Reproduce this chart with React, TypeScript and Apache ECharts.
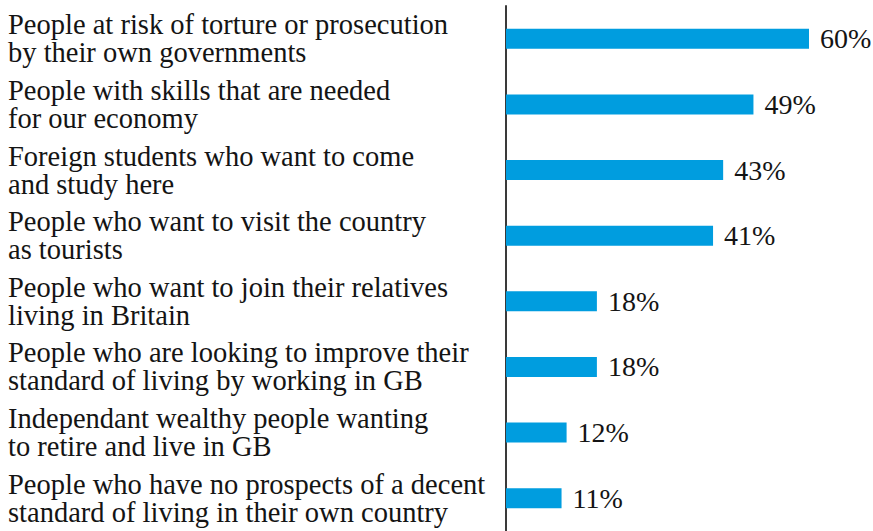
import React, { useEffect, useRef } from "react";
import * as echarts from "echarts";

const categories: string[] = [
  "People at risk of torture or prosecution\nby their own governments",
  "People with skills that are needed\nfor our economy",
  "Foreign students who want to come\nand study here",
  "People who want to visit the country\nas tourists",
  "People who want to join their relatives\nliving in Britain",
  "People who are looking to improve their\nstandard of living by working in GB",
  "Independant wealthy people wanting\nto retire and live in GB",
  "People who have no prospects of a decent\nstandard of living in their own country",
];

const values: number[] = [60, 49, 43, 41, 18, 18, 12, 11];

const FONT = "'Liberation Serif', 'Times New Roman', serif";

export default function App() {
  const ref = useRef<HTMLDivElement>(null);
  useEffect(() => {
    if (!ref.current) return;
    const chart = echarts.init(ref.current, null, { renderer: "svg" });
    chart.setOption({
      animation: false,
      backgroundColor: "#ffffff",
      grid: { left: 506, right: 13.5, top: 6, bottom: -4, containLabel: false },
      xAxis: {
        type: "value",
        min: 0,
        max: 70,
        show: false,
        splitLine: { show: false },
      },
      yAxis: {
        type: "category",
        inverse: true,
        data: categories,
        axisLine: { show: true, lineStyle: { color: "#3a3a3a", width: 2 } },
        axisTick: { show: false },
        axisLabel: {
          align: "left",
          margin: 498,
          fontFamily: FONT,
          fontSize: 28.5,
          lineHeight: 28,
          color: "#141414",
        },
      },
      series: [
        {
          type: "bar",
          data: values,
          barWidth: 20,
          itemStyle: { color: "#009ddf" },
          label: {
            show: true,
            position: "right",
            distance: 11,
            formatter: "{c}%",
            fontFamily: FONT,
            fontSize: 28,
            color: "#141414",
          },
        },
      ],
    });
    return () => chart.dispose();
  }, []);
  return (
    <div
      ref={ref}
      style={{ position: "fixed", left: 0, top: 0, width: 873, height: 531, background: "#fff" }}
    />
  );
}
